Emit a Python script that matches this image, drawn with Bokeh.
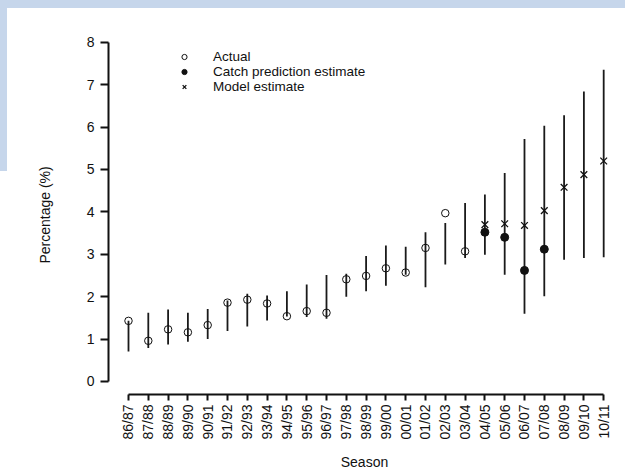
import math
from bokeh.plotting import figure
from bokeh.models import Range1d, FixedTicker, Legend, LegendItem
from bokeh.embed import file_html
from bokeh.resources import INLINE

# ---------------- data ----------------
seasons = ["86/87", "87/88", "88/89", "89/90", "90/91", "91/92", "92/93", "93/94",
           "94/95", "95/96", "96/97", "97/98", "98/99", "99/00", "00/01", "01/02",
           "02/03", "03/04", "04/05", "05/06", "06/07", "07/08", "08/09", "09/10", "10/11"]
actual = [1.43, 0.96, 1.23, 1.16, 1.33, 1.86, 1.93, 1.84, 1.54, 1.66, 1.62, 2.41,
          2.49, 2.67, 2.57, 3.15, 3.97, 3.07]
catch_pred = [3.52, 3.40, 2.62, 3.12]          # 04/05 .. 07/08
model_est = [3.70, 3.72, 3.68, 4.03, 4.58, 4.88, 5.20]   # 04/05 .. 10/11
lower = [0.71, 0.79, 0.87, 0.94, 1.00, 1.19, 1.30, 1.44, 1.53, 1.52, 1.48, 2.00,
         2.13, 2.26, 2.52, 2.22, 2.76, 2.91, 2.99, 2.52, 1.60, 2.01, 2.87, 2.91, 2.93]
upper = [1.43, 1.62, 1.70, 1.62, 1.71, 1.91, 2.07, 2.03, 2.13, 2.29, 2.51, 2.54,
         2.96, 3.21, 3.18, 3.52, 3.74, 4.21, 4.41, 4.92, 5.72, 6.03, 6.28, 6.84, 7.35]
y_ticks = [0, 1, 2, 3, 4, 5, 6, 7, 8]

idx = list(range(len(seasons)))
idx_actual = idx[:len(actual)]
idx_catch = idx[18:18 + len(catch_pred)]
idx_model = idx[18:18 + len(model_est)]

FONT = "Liberation Sans"
INK = "#111111"

p = figure(width=617, height=464,
           x_range=Range1d(-1.0101, 24.849), y_range=Range1d(-0.3066, 8.160),
           output_backend="svg", toolbar_location=None,
           min_border_left=100, min_border_right=5, min_border_top=27, min_border_bottom=78)
p.outline_line_color = None
p.xgrid.visible = False
p.ygrid.visible = False
p.background_fill_color = "white"
p.border_fill_color = "white"

# error bars
p.segment(x0=idx, y0=lower, x1=idx, y1=upper, line_width=1.8, line_color="#1a1a1a")

r_act = p.scatter(x=idx_actual, y=actual, marker="circle", size=7.5,
                  fill_alpha=0, line_color=INK, line_width=1)
r_catch = p.scatter(x=idx_catch, y=catch_pred, marker="circle", size=8,
                    fill_color=INK, line_color=INK)
r_model = p.scatter(x=idx_model, y=model_est, marker="x", size=9.5,
                    line_color=INK, line_width=1.3)

# axes
for ax in (p.xaxis, p.yaxis):
    ax.axis_line_width = 2
    ax.axis_line_color = INK
    ax.major_tick_line_width = 2
    ax.major_tick_line_color = INK
    ax.minor_tick_line_color = None
    ax.major_tick_in = 0
    ax.major_label_text_font = FONT
    ax.major_label_text_font_size = "14px"
    ax.major_label_text_color = INK
    ax.axis_label_text_font = FONT
    ax.axis_label_text_font_size = "14px"
    ax.axis_label_text_font_style = "normal"
    ax.axis_label_text_color = INK

p.xaxis.ticker = FixedTicker(ticks=idx)
p.xaxis.major_label_overrides = {i: s for i, s in zip(idx, seasons)}
p.xaxis.major_label_orientation = math.pi / 2
p.xaxis.bounds = (0, len(seasons) - 1)
p.xaxis.major_tick_out = 6
p.xaxis.major_label_standoff = 4
p.xaxis.axis_label = "Season"
p.xaxis.axis_label_standoff = 11

p.yaxis.ticker = FixedTicker(ticks=y_ticks)
p.yaxis.bounds = (0, 8)
p.yaxis.major_tick_out = 8
p.yaxis.major_label_standoff = 6
p.yaxis.axis_label = "Percentage (%)"
p.yaxis.axis_label_standoff = 31

legend = Legend(items=[LegendItem(label="Actual", renderers=[r_act]),
                       LegendItem(label="Catch prediction estimate", renderers=[r_catch]),
                       LegendItem(label="Model estimate", renderers=[r_model])],
                location=(65, 300), orientation="vertical",
                border_line_color=None, background_fill_alpha=0,
                padding=0, margin=0, spacing=0,
                glyph_width=22, glyph_height=13, label_height=13, label_standoff=18,
                label_text_font=FONT, label_text_font_size="13.5px",
                label_text_color=INK, label_text_line_height=1.0)
p.add_layout(legend)

html = file_html(p, INLINE)
css = ("<style>html,body{overflow:hidden;}"
       "body{margin:0 !important;padding:8px 0 0 8px !important;"
       "background:linear-gradient(#c6d6eb,#c6d6eb) 0 0/100% 8px no-repeat,"
       "linear-gradient(#c6d6eb,#c6d6eb) 0 0/7px 171px no-repeat,#ffffff;}</style>")
html = html.replace("</head>", css + "</head>", 1)
open("out.html", "w").write(html)
